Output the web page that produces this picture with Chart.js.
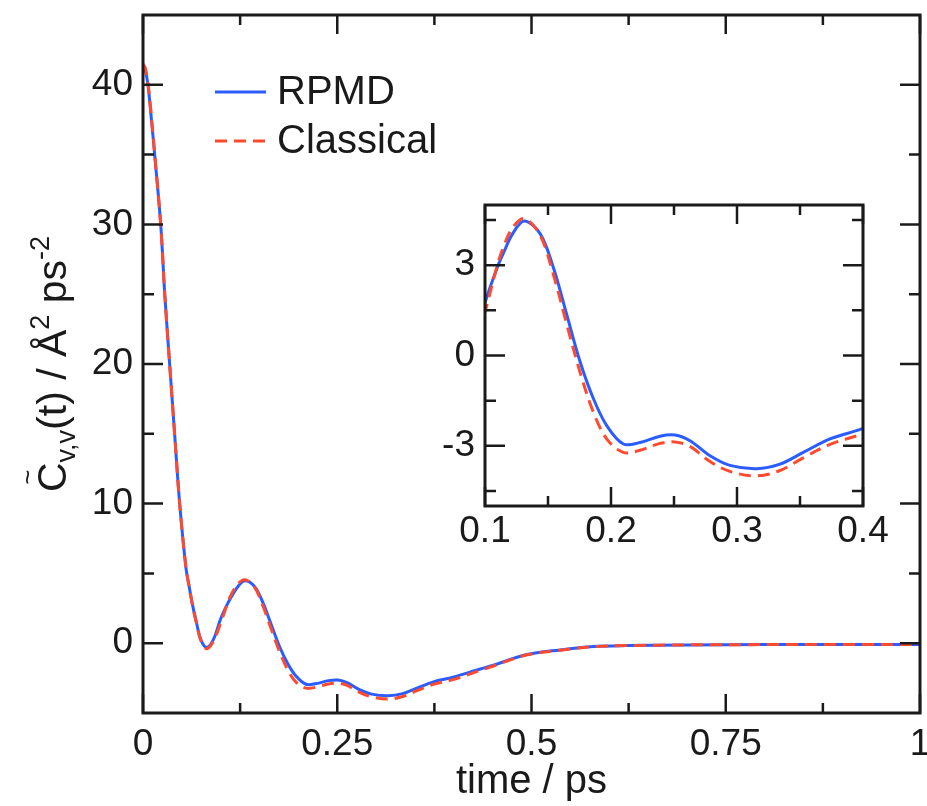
<!DOCTYPE html>
<html><head><meta charset="utf-8">
<script src="https://cdn.jsdelivr.net/npm/chart.js@4"></script>
<style>
html,body{margin:0;padding:0;background:#fff;}
#wrap{position:relative;width:927px;height:806px;overflow:hidden;}
#main{position:absolute;left:0;top:0;}
#inset{position:absolute;left:420px;top:195px;}
</style></head><body>
<div id="wrap"><canvas id="main" width="927" height="806"></canvas><canvas id="inset" width="480" height="365"></canvas></div>
<script>
// ---- data ----
const time = [0, 0.003, 0.0064, 0.010, 0.015, 0.0228, 0.028, 0.0343, 0.0407, 0.0472, 0.0553, 0.0596, 0.0635, 0.069, 0.0745, 0.082, 0.0904, 0.100, 0.1095, 0.1146, 0.122, 0.1312, 0.1437, 0.1542, 0.1648, 0.1754, 0.186, 0.1966, 0.2098, 0.223, 0.2389, 0.2508, 0.2627, 0.2786, 0.2944, 0.3156, 0.3341, 0.3526, 0.3738, 0.399, 0.434, 0.45, 0.493, 0.537, 0.58, 0.622, 0.70, 0.80, 0.90, 1.0];
const rpmd = [41.3, 41.0, 40.0, 38.0, 35.0, 30.0, 25.0, 20.0, 15.0, 10.0, 5.4, 4.0, 2.8, 1.43, 0.24, -0.3, 0.24, 1.75, 2.9, 3.4, 4.05, 4.47, 4.05, 2.93, 1.37, -0.2, -1.43, -2.33, -2.94, -2.89, -2.68, -2.64, -2.83, -3.33, -3.65, -3.76, -3.61, -3.22, -2.77, -2.44, -1.85, -1.6, -0.83, -0.48, -0.24, -0.17, -0.12, -0.1, -0.1, -0.1];
const classical = [41.5, 41.2, 40.1, 38.2, 35.1, 30.0, 25.0, 20.0, 15.0, 10.0, 5.4, 4.0, 2.8, 1.4, 0.2, -0.4, 0.12, 1.45, 2.95, 3.6, 4.25, 4.55, 4.0, 2.7, 1.05, -0.55, -1.88, -2.77, -3.22, -3.15, -2.92, -2.87, -3.02, -3.52, -3.85, -4.0, -3.82, -3.4, -2.95, -2.61, -1.95, -1.65, -0.85, -0.5, -0.25, -0.17, -0.12, -0.1, -0.1, -0.1];
const seriesNames = ['RPMD', 'Classical'];

const mainXTicks = [0, 0.25, 0.5, 0.75, 1];
const mainXTickLabels = ['0', '0.25', '0.5', '0.75', '1'];
const mainXMinor = [0.125, 0.375, 0.625, 0.875];
const mainYTicks = [0, 10, 20, 30, 40];
const mainYTickLabels = ['0', '10', '20', '30', '40'];
const mainYMinor = [5, 15, 25, 35];

const insetXTicks = [0.1, 0.2, 0.3, 0.4];
const insetXTickLabels = ['0.1', '0.2', '0.3', '0.4'];
const insetXMinor = [0.15, 0.25, 0.35];
const insetYTicks = [-3, 0, 3];
const insetYTickLabels = ['-3', '0', '3'];
const insetYMinor = [-4.5, -1.5, 1.5, 4.5];

// ---- styling ----
const BLUE = '#2a5cff';
const RED = '#ff4a2e';
const INK = '#1a1a1a';
const FONT = "'Liberation Sans', Arial, Helvetica, sans-serif";
Chart.defaults.font.family = FONT;
Chart.defaults.color = INK;

const toPts = arr => time.map((t, i) => ({x: t, y: arr[i]}));
function makeDatasets() {
  return [
    {label: seriesNames[0], data: toPts(rpmd), borderColor: BLUE, borderWidth: 3, pointRadius: 0,
     tension: 0.35, fill: false, order: 2},
    {label: seriesNames[1], data: toPts(classical), borderColor: RED, borderWidth: 3, pointRadius: 0,
     borderDash: [12, 7], tension: 0.35, fill: false, order: 1}
  ];
}

const frameTicks = {
  id: 'frameTicks',
  afterDraw(chart, args, o) {
    const {ctx, chartArea: a, scales: {x, y}} = chart;
    ctx.save();
    ctx.strokeStyle = INK;
    ctx.lineWidth = 3;
    ctx.strokeRect(a.left, a.top, a.right - a.left, a.bottom - a.top);
    ctx.lineWidth = 2.5;
    ctx.beginPath();
    const xt = (vals, len) => vals.forEach(v => {
      const p = x.getPixelForValue(v);
      ctx.moveTo(p, a.bottom); ctx.lineTo(p, a.bottom - len);
      ctx.moveTo(p, a.top); ctx.lineTo(p, a.top + len);
    });
    const yt = (vals, len) => vals.forEach(v => {
      const p = y.getPixelForValue(v);
      ctx.moveTo(a.left, p); ctx.lineTo(a.left + len, p);
      ctx.moveTo(a.right, p); ctx.lineTo(a.right - len, p);
    });
    xt(o.xMajor, 19); xt(o.xMinor, 10);
    yt(o.yMajor, 20); yt(o.yMinor, 11);
    ctx.stroke();
    ctx.restore();
  }
};

const legendAndTitle = {
  id: 'legendAndTitle',
  afterDraw(chart) {
    const ctx = chart.ctx;
    const ds = chart.data.datasets;
    ctx.save();
    // legend
    ctx.font = '40px ' + FONT;
    ctx.fillStyle = INK;
    ctx.textBaseline = 'middle';
    const rows = [92, 141];
    ds.forEach((d, i) => {
      ctx.strokeStyle = d.borderColor;
      ctx.lineWidth = 3;
      ctx.setLineDash(d.borderDash || []);
      ctx.beginPath(); ctx.moveTo(215, rows[i]); ctx.lineTo(266, rows[i]); ctx.stroke();
      ctx.setLineDash([]);
      ctx.fillText(d.label, 277, rows[i] + 1);
    });
    // y axis title with sub/superscripts
    const a = chart.chartArea;
    const big = '41px ' + FONT, small = '27px ' + FONT;
    const parts = [
      {t: 'C', f: big, dy: 0},
      {t: 'v,v', f: small, dy: 9},
      {t: '(t) / Å', f: big, dy: 0},
      {t: '2', f: small, dy: -17},
      {t: ' ps', f: big, dy: 0},
      {t: '-2', f: small, dy: -17}
    ];
    let total = 0;
    parts.forEach(p => { ctx.font = p.f; p.w = ctx.measureText(p.t).width; total += p.w; });
    ctx.translate(66, (a.top + a.bottom) / 2);
    ctx.rotate(-Math.PI / 2);
    ctx.textBaseline = 'alphabetic';
    ctx.textAlign = 'left';
    let cx = -total / 2;
    parts.forEach((p, i) => {
      ctx.font = p.f;
      ctx.fillText(p.t, cx, p.dy);
      if (i === 0) { // tilde over C
        ctx.font = '26px ' + FONT;
        const tw = ctx.measureText('~').width;
        ctx.fillText('~', cx + p.w / 2 - tw / 2, -30);
      }
      cx += p.w;
    });
    ctx.restore();
  }
};

function setTicks(values) { return s => { s.ticks = values.map(v => ({value: v})); }; }
function fixSize(prop, val) {
  return s => { s[prop] = val; s.paddingLeft = 0; s.paddingRight = 0; s.paddingTop = 0; s.paddingBottom = 0; };
}

new Chart(document.getElementById('main'), {
  type: 'line',
  data: {datasets: makeDatasets()},
  plugins: [frameTicks, legendAndTitle],
  options: {
    responsive: false, animation: false, events: [],
    layout: {padding: {top: 15, right: 7, left: 0, bottom: 0}},
    plugins: {legend: {display: false}, tooltip: {enabled: false},
      frameTicks: {xMajor: mainXTicks, xMinor: mainXMinor, yMajor: mainYTicks, yMinor: mainYMinor}},
    scales: {
      x: {type: 'linear', min: 0, max: 1,
        grid: {display: false, drawTicks: false}, border: {display: false},
        afterBuildTicks: setTicks(mainXTicks),
        ticks: {font: {size: 37}, color: INK, padding: 10, maxRotation: 0, autoSkip: false,
          callback: (v, i) => mainXTickLabels[i]},
        title: {display: true, text: 'time / ps', font: {size: 40}, color: INK, padding: {top: 0, bottom: 0}},
        afterFit: fixSize('height', 93)},
      y: {type: 'linear', min: -5, max: 45,
        grid: {display: false, drawTicks: false}, border: {display: false},
        afterBuildTicks: setTicks(mainYTicks),
        ticks: {font: {size: 37}, color: INK, padding: 10, autoSkip: false,
          callback: (v, i) => mainYTickLabels[i]},
        afterFit: fixSize('width', 143)}
    }
  }
});

new Chart(document.getElementById('inset'), {
  type: 'line',
  data: {datasets: makeDatasets()},
  plugins: [frameTicks],
  options: {
    responsive: false, animation: false, events: [],
    layout: {padding: {top: 10, right: 37, left: 0, bottom: 0}},
    plugins: {legend: {display: false}, tooltip: {enabled: false},
      frameTicks: {xMajor: insetXTicks, xMinor: insetXMinor, yMajor: insetYTicks, yMinor: insetYMinor}},
    scales: {
      x: {type: 'linear', min: 0.1, max: 0.4,
        grid: {display: false, drawTicks: false}, border: {display: false},
        afterBuildTicks: setTicks(insetXTicks),
        ticks: {font: {size: 37}, color: INK, padding: 4, maxRotation: 0, autoSkip: false,
          callback: (v, i) => insetXTickLabels[i]},
        afterFit: fixSize('height', 54)},
      y: {type: 'linear', min: -5, max: 5,
        grid: {display: false, drawTicks: false}, border: {display: false},
        afterBuildTicks: setTicks(insetYTicks),
        ticks: {font: {size: 37}, color: INK, padding: 10, autoSkip: false,
          callback: (v, i) => insetYTickLabels[i]},
        afterFit: fixSize('width', 65)}
    }
  }
});
</script>
</body></html>
